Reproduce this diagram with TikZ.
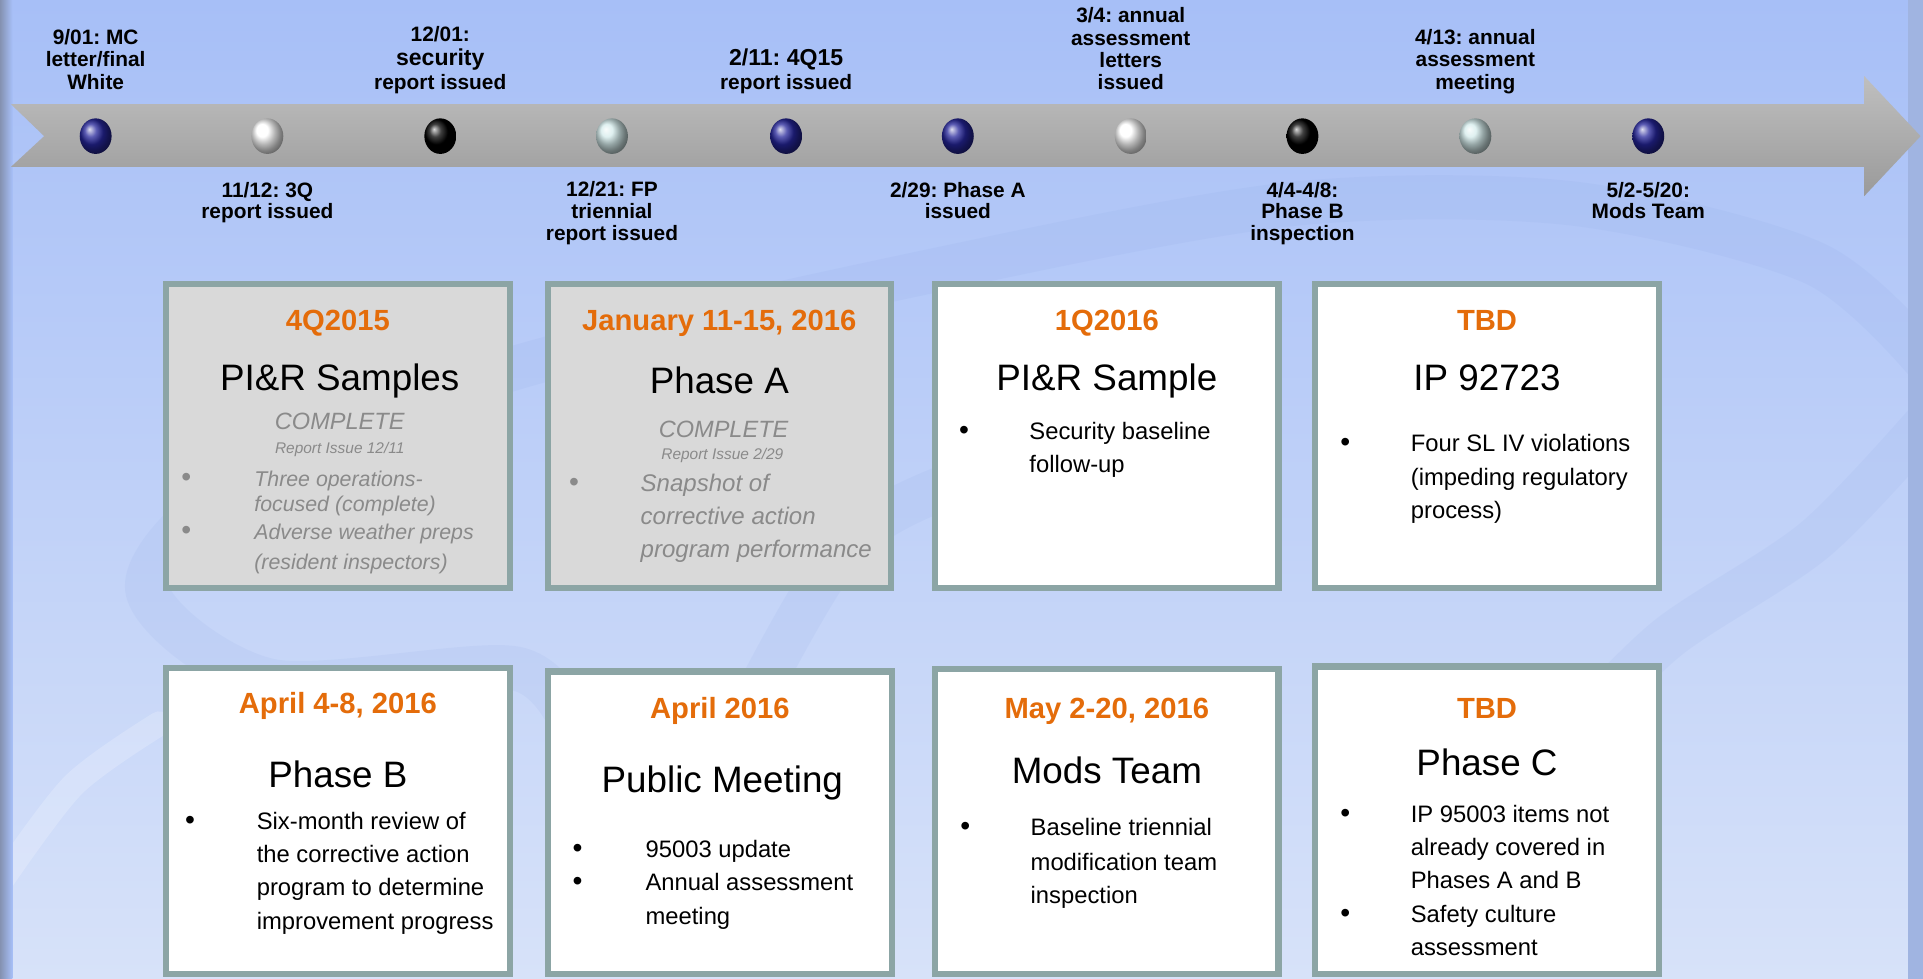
\documentclass[tikz,border=0pt]{standalone}
\usepackage{fontspec}
\setmainfont{Liberation Sans}
\usetikzlibrary{shapes.geometric}
\frenchspacing
\definecolor{bgtop}{HTML}{A7BFF7}
\definecolor{bgmid}{HTML}{BACDF8}
\definecolor{bgbot}{HTML}{D7E2F9}
\definecolor{swirl}{HTML}{7F9BE0}
\definecolor{dateorange}{HTML}{E46C0A}
\definecolor{boxborder}{HTML}{8CA5A5}
\definecolor{donegray}{HTML}{D9D9D9}
\definecolor{donetext}{HTML}{8A8A8A}
\definecolor{ballblue}{HTML}{25259A}
\definecolor{ballcyan}{HTML}{D4EBEB}
\definecolor{arrowtop}{HTML}{BFBFBF}
\definecolor{arrowbot}{HTML}{9A9A9A}
\tikzset{
  ball/.style={ellipse, minimum width=13pt, minimum height=14.5pt, inner sep=0pt},
  tl/.style={font=\fontsize{8.5}{9.5}\selectfont\bfseries, anchor=base, inner sep=0pt},
  tlb/.style={font=\fontsize{9.4}{10}\selectfont\bfseries, anchor=base, inner sep=0pt},
  datest/.style={font=\fontsize{11.9}{14}\selectfont\bfseries, text=dateorange, anchor=base, inner sep=0pt},
  ttl/.style={font=\fontsize{15}{18}\selectfont, anchor=base, inner sep=0pt},
  txt/.style={font=\fontsize{9.7}{12}\selectfont, anchor=base west, inner sep=0pt},
  bul/.style={font=\fontsize{11.5}{12}\selectfont, anchor=base, inner sep=0pt},
  gbul/.style={bul, text=donetext},
  gtxt/.style={font=\fontsize{9.8}{12}\selectfont\itshape, text=donetext, anchor=base west, inner sep=0pt},
  gtxts/.style={font=\fontsize{8.7}{12}\selectfont\itshape, text=donetext, anchor=base west, inner sep=0pt},
  cmpl/.style={font=\fontsize{9.6}{12}\selectfont\itshape, text=donetext, anchor=base, inner sep=0pt},
  rpt/.style={font=\fontsize{6.3}{8}\selectfont\itshape, text=donetext, anchor=base, inner sep=0pt},
  card/.style={draw=boxborder, line width=2.5pt, fill=white, minimum width=140pt, inner sep=0pt},
  donecard/.style={card, fill=donegray},
  swirlband/.style={draw=swirl, line width=18pt, draw opacity=0.09, line cap=round}
}
\begin{document}
\begin{tikzpicture}[x=0.5pt,y=-0.5pt]
\useasboundingbox (0,0) rectangle (1568,798);
% background
\shade[top color=bgtop, middle color=bgmid, bottom color=bgbot] (0,0) rectangle (1568,798);
\draw[swirlband] plot[smooth] coordinates {(470,600) (420,545) (220,555) (120,480) (200,390) (420,300) (783,216) (1057,166) (1283,166) (1480,215) (1575,300)};
\draw[swirlband] plot[smooth] coordinates {(600,600) (690,445) (800,385) (960,330)};
\draw[swirlband] plot[smooth] coordinates {(1575,340) (1480,440) (1360,520) (1280,600)};
\draw[draw=white, line width=10pt, draw opacity=0.2, line cap=round] plot[smooth] coordinates {(0,720) (60,640) (130,590)};
\shade[left color=black!20!bgtop!70!gray, right color=bgtop] (0,0) rectangle (10,798);
\fill[bgtop!85!black!60!bgmid] (1556,0) rectangle (1568,798);
% timeline arrow
\shade[top color=arrowtop, bottom color=arrowbot] (9,85) -- (1520,85) -- (1520,62) -- (1566,111) -- (1520,160) -- (1520,136) -- (9,136) -- (36,111) -- cycle;
% milestones
\node[ball, ball color=ballblue] (c1) at (78,111) {};
\node[ball, ball color=white] (c2) at (218,111) {};
\node[ball, ball color=black] (c3) at (359,111) {};
\node[ball, ball color=ballcyan] (c4) at (499,111) {};
\node[ball, ball color=ballblue] (c5) at (641,111) {};
\node[ball, ball color=ballblue] (c6) at (781,111) {};
\node[ball, ball color=white] (c7) at (922,111) {};
\node[ball, ball color=black] (c8) at (1062,111) {};
\node[ball, ball color=ballcyan] (c9) at (1203,111) {};
\node[ball, ball color=ballblue] (c10) at (1344,111) {};
% labels above
\node[tl] (l1a) at (78,36) {9/01: MC};
\node[tl] (l1b) at (78,54) {letter/final};
\node[tl] (l1c) at (78,73) {White};
\node[tl] (l3a) at (359,34) {12/01:};
\node[tlb] (l3b) at (359,53) {security};
\node[tl] (l3c) at (359,73) {report issued};
\node[tlb] (l5a) at (641,53) {2/11: 4Q15};
\node[tl] (l5b) at (641,73) {report issued};
\node[tl] (l7a) at (922,18) {3/4: annual};
\node[tl] (l7b) at (922,37) {assessment};
\node[tl] (l7c) at (922,55) {letters};
\node[tl] (l7d) at (922,73) {issued};
\node[tl] (l9a) at (1203,36) {4/13: annual};
\node[tl] (l9b) at (1203,54) {assessment};
\node[tl] (l9c) at (1203,73) {meeting};
% labels below
\node[tl] (l2a) at (218,161) {11/12: 3Q};
\node[tl] (l2b) at (218,178) {report issued};
\node[tl] (l4a) at (499,160) {12/21: FP};
\node[tl] (l4b) at (499,178) {triennial};
\node[tl] (l4c) at (499,196) {report issued};
\node[tl] (l6a) at (781,161) {2/29: Phase A};
\node[tl] (l6b) at (781,178) {issued};
\node[tl] (l8a) at (1062,161) {4/4-4/8:};
\node[tl] (l8b) at (1062,178) {Phase B};
\node[tl] (l8c) at (1062,196) {inspection};
\node[tl] (l10a) at (1344,161) {5/2-5/20:};
\node[tl] (l10b) at (1344,178) {Mods Team};
% cards row 1
\node[donecard, minimum height=124pt] (b1) at (275.5,355.5) {};
\node[donecard, minimum height=124pt] (b2) at (586.5,355.5) {};
\node[card, minimum height=124pt] (b3) at (902.5,355.5) {};
\node[card, minimum height=124pt] (b4) at (1212.5,355.5) {};
% cards row 2
\node[card, minimum height=124.75pt] (b5) at (275.5,669.25) {};
\node[card, minimum height=123.25pt] (b6) at (587,670.75) {};
\node[card, minimum height=124.25pt] (b7) at (902.5,669.75) {};
\node[card, minimum height=125.25pt] (b8) at (1212.5,668.75) {};
% box 1
\node[datest] (d1) at (275.5,269.5) {4Q2015};
\node[ttl] (h1) at (277,318.5) {PI\&R Samples};
\node[cmpl] (s1) at (277,350) {COMPLETE};
\node[rpt] (r1) at (277,369.5) {Report Issue 12/11};
\node[gbul] (p1a) at (152,397) {•};
\node[gtxts] (x1a) at (207,397) {Three operations-};
\node[gtxts] (x1b) at (207,417) {focused (complete)};
\node[gbul] (p1b) at (152,440) {•};
\node[gtxts] (x1c) at (207,440) {Adverse weather preps};
\node[gtxts] (x1d) at (207,464) {(resident inspectors)};
% box 2
\node[datest] (d2) at (586.5,269.5) {January 11-15, 2016};
\node[ttl] (h2) at (586.5,320.5) {Phase A};
\node[cmpl] (s2) at (590,357) {COMPLETE};
\node[rpt] (r2) at (589,374.5) {Report Issue 2/29};
\node[gbul] (p2a) at (468,400.5) {•};
\node[gtxt] (x2a) at (522,400.5) {Snapshot of};
\node[gtxt] (x2b) at (522,427.5) {corrective action};
\node[gtxt] (x2c) at (522,454.5) {program performance};
% box 3
\node[datest] (d3) at (902.5,269.5) {1Q2016};
\node[ttl] (h3) at (902.5,318.5) {PI\&R Sample};
\node[bul] (p3a) at (786,358.5) {•};
\node[txt] (x3a) at (839,358.5) {Security baseline};
\node[txt] (x3b) at (839,385.5) {follow-up};
% box 4
\node[datest] (d4) at (1212.5,269.5) {TBD};
\node[ttl] (h4) at (1212.5,318.5) {IP 92723};
\node[bul] (p4a) at (1097,368.5) {•};
\node[txt] (x4a) at (1150,368.5) {Four SL IV violations};
\node[txt] (x4b) at (1150,395.5) {(impeding regulatory};
\node[txt] (x4c) at (1150,422.5) {process)};
% box 5
\node[datest] (d5) at (275.5,581.5) {April 4-8, 2016};
\node[ttl] (h5) at (275.5,642.5) {Phase B};
\node[bul] (p5a) at (155,676.5) {•};
\node[txt] (x5a) at (209,676.5) {Six-month review of};
\node[txt] (x5b) at (209,703.5) {the corrective action};
\node[txt] (x5c) at (209,730.5) {program to determine};
\node[txt] (x5d) at (209,757.5) {improvement progress};
% box 6
\node[datest] (d6) at (587,585.5) {April 2016};
\node[ttl] (h6) at (589,646.5) {Public Meeting};
\node[bul] (p6a) at (471,699.5) {•};
\node[txt] (x6a) at (526,699.5) {95003 update};
\node[bul] (p6b) at (471,726.5) {•};
\node[txt] (x6b) at (526,726.5) {Annual assessment};
\node[txt] (x6c) at (526,753.5) {meeting};
% box 7
\node[datest] (d7) at (902.5,585.5) {May 2-20, 2016};
\node[ttl] (h7) at (902.5,638.5) {Mods Team};
\node[bul] (p7a) at (787,681.5) {•};
\node[txt] (x7a) at (840,681.5) {Baseline triennial};
\node[txt] (x7b) at (840,709.5) {modification team};
\node[txt] (x7c) at (840,736.5) {inspection};
% box 8
\node[datest] (d8) at (1212.5,585.5) {TBD};
\node[ttl] (h8) at (1212.5,632.5) {Phase C};
\node[bul] (p8a) at (1097,670.5) {•};
\node[txt] (x8a) at (1150,670.5) {IP 95003 items not};
\node[txt] (x8b) at (1150,697.5) {already covered in};
\node[txt] (x8c) at (1150,724.5) {Phases A and B};
\node[bul] (p8b) at (1097,752.5) {•};
\node[txt] (x8d) at (1150,752.5) {Safety culture};
\node[txt] (x8e) at (1150,779.5) {assessment};
\end{tikzpicture}
\end{document}
